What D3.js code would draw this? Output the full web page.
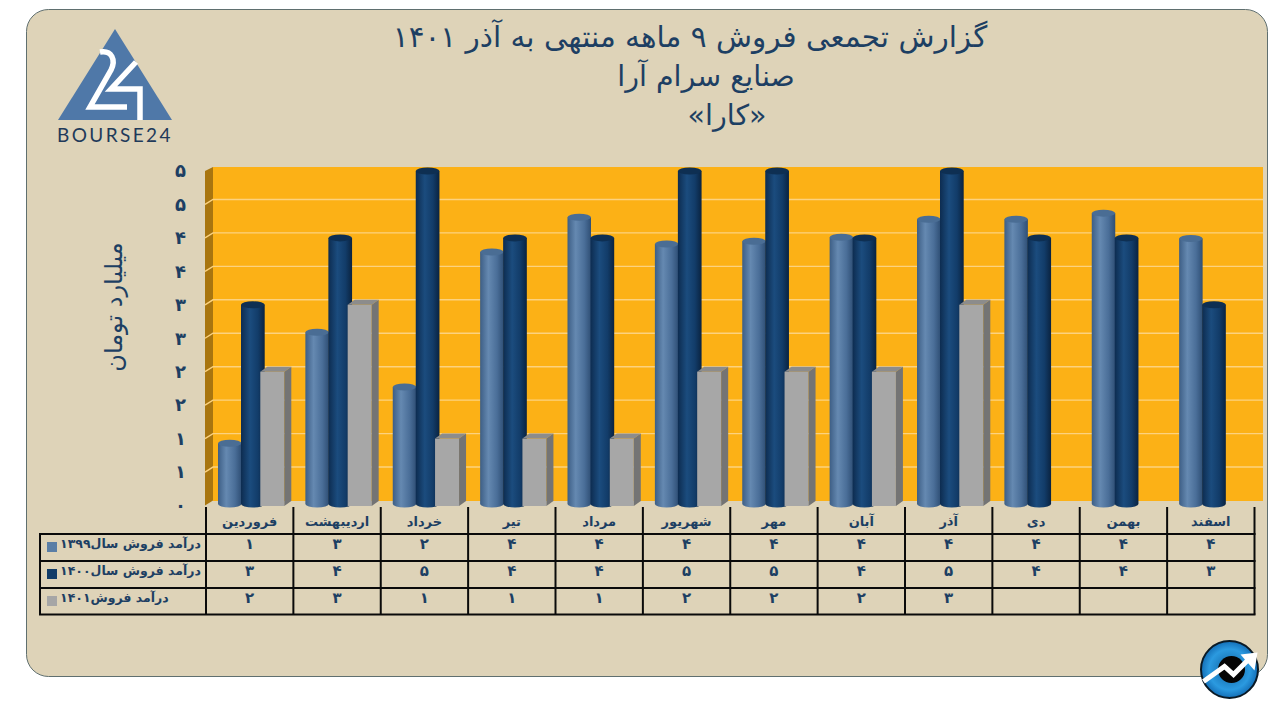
<!DOCTYPE html>
<html lang="fa"><head><meta charset="utf-8">
<script src="https://cdn.jsdelivr.net/npm/d3@7/dist/d3.min.js"></script>
<style>html,body{margin:0;padding:0;background:#fff}svg{display:block}text{font-family:"DejaVu Sans",sans-serif}</style>
</head><body><svg id="c" width="1280" height="720"></svg>
<script>
const titleLines = ["گزارش تجمعی فروش ۹ ماهه منتهی به آذر ۱۴۰۱","صنایع سرام آرا","«کارا»"];
const yAxisTitle = "میلیارد تومان";
const months = ["فروردین","اردیبهشت","خرداد","تیر","مرداد","شهریور","مهر","آبان","آذر","دی","بهمن","اسفند"];
const seriesNames = ["درآمد فروش سال۱۳۹۹","درآمد فروش سال۱۴۰۰","درآمد فروش۱۴۰۱"];
const sales1399 = [0.93,2.59,1.77,3.79,4.31,3.91,3.95,4.01,4.28,4.28,4.37,3.99];
const sales1400 = [3,4,5,4,4,5,5,4,5,4,4,3];
const sales1401 = [2,3,1,1,1,2,2,2,3,null,null,null];
const yTicks = [0,0.5,1,1.5,2,2.5,3,3.5,4,4.5,5];

const fa = n => String(n).replace(/\d/g,d=>"۰۱۲۳۴۵۶۷۸۹"[d]);
const ink = "#1d3f63";
const svg = d3.select("#c");
const defs = svg.append("defs");
function hGrad(id,stops){
  const g=defs.append("linearGradient").attr("id",id);
  stops.forEach(([o,c])=>g.append("stop").attr("offset",o).attr("stop-color",c));
}
hGrad("cylA",[[0,"#3d5e85"],[.35,"#6589b1"],[.72,"#4a6e98"],[1,"#2f4f75"]]);
hGrad("cylB",[[0,"#0d2c50"],[.38,"#1b4c7e"],[.72,"#123c69"],[1,"#0a2340"]]);
const rg=defs.append("radialGradient").attr("id","badge").attr("cx",.5).attr("cy",.5).attr("r",.55);
[[0,"#0d5f9e"],[.65,"#2b9ae0"],[1,"#0b5fa8"]].forEach(([o,c])=>rg.append("stop").attr("offset",o).attr("stop-color",c));

// panel
svg.append("rect").attr("x",26.5).attr("y",9.5).attr("width",1241).attr("height",667).attr("rx",22)
  .attr("fill","#ded3b8").attr("stroke","#5f6f6f").attr("stroke-width",1);

// title
const tY=[47,86,125], tX=[690,706,727], tS=[29.5,28.5,28.5];
svg.append("g").selectAll("text").data(titleLines).join("text")
  .attr("x",(d,i)=>tX[i]).attr("y",(d,i)=>tY[i]).attr("text-anchor","middle").attr("fill",ink)
  .attr("font-size",(d,i)=>tS[i]).text(d=>d);

// logo
const logo=svg.append("g");
logo.append("path").attr("d","M115,29L172,120H58Z").attr("fill","#4f78a8");
logo.append("path").attr("d","M100,52C112,50 116,60 111,70L90,107H127").attr("fill","none").attr("stroke","#fff").attr("stroke-width",5.5);
logo.append("path").attr("d","M136,62L111,89H140V120").attr("fill","none").attr("stroke","#fff").attr("stroke-width",5.5);
logo.append("text").attr("x",115).attr("y",142).attr("text-anchor","middle").attr("font-size",19).attr("letter-spacing",2.4)
  .attr("fill","#1f3a5a").style("font-family","Lato").text("BOURSE24");

// scales
const x0=206, x1=1254.5;
const x=d3.scaleBand().domain(d3.range(months.length)).range([x0,x1]);
const y=d3.scaleLinear().domain([0,5]).range([505.5,171]);
const dx=8, dy=5;

// walls
const plot=svg.append("g");
plot.append("rect").attr("x",x0+dx-1).attr("y",y(5)-dy+1).attr("width",1263-(x0+dx-1)).attr("height",y(0)-y(5)-0.5).attr("fill","#fcb116");
plot.append("path").attr("d",`M${x0-1},${y(5)}L${x0+dx-1},${y(5)-dy+1}V${y(0)-dy}L${x0-1},${y(0)}Z`).attr("fill","#a8750f");
plot.selectAll("path.g").data(yTicks.slice(1,-1)).join("path").attr("class","g")
  .attr("d",t=>`M${x0-1},${y(t)}L${x0+dx-1},${y(t)-dy}H1263`).attr("fill","none").attr("stroke","#fcd27f").attr("stroke-width",1.4);

// y axis
const ax=svg.append("g").attr("transform","translate(189,0)")
  .call(d3.axisLeft(y).tickValues(yTicks).tickSize(0).tickPadding(3).tickFormat(t=>fa(Math.round(t+1e-9))));
ax.select(".domain").remove();
ax.selectAll("text").attr("font-size",18).attr("font-weight","bold").attr("fill",ink).style("font-family","DejaVu Sans");
svg.append("text").attr("transform","translate(122,307) rotate(-90)").attr("text-anchor","middle")
  .attr("font-size",24).attr("fill",ink).text(yAxisTitle);

// bars
const ry=3.5, floor=y(0)-1.5;
function cylinders(vals,off,w,grad,top){
  const g=svg.append("g");
  vals.forEach((v,i)=>{
    const cx=x(i)+off+w/2, t=y(v);
    g.append("path").attr("d",`M${cx-w/2},${t}V${floor}A${w/2},${ry} 0 0 0 ${cx+w/2},${floor}V${t}Z`).attr("fill",`url(#${grad})`);
    g.append("ellipse").attr("cx",cx).attr("cy",t).attr("rx",w/2).attr("ry",ry).attr("fill",top);
  });
}
cylinders(sales1399,12,23.5,"cylA","#4a6d94");
cylinders(sales1400,35,23.7,"cylB","#0e2f52");
const gb=svg.append("g"), gw=24, gx=54.3, gs=7, gr=5;
sales1401.forEach((v,i)=>{
  if(v==null) return;
  const l=x(i)+gx, t=y(v), b=y(0)+0.5;
  gb.append("rect").attr("x",l).attr("y",t).attr("width",gw).attr("height",b-t).attr("fill","#a7a7a7");
  gb.append("path").attr("d",`M${l+gw},${t}L${l+gw+gs},${t-gr}V${b-gr}L${l+gw},${b}Z`).attr("fill","#747474");
  gb.append("path").attr("d",`M${l},${t}L${l+gs},${t-gr}H${l+gw+gs}L${l+gw},${t}Z`).attr("fill","#8c8c8c");
});

// data table
const rowY=[534,561,588,614.5], tblL=40;
const grid=svg.append("g").attr("stroke","#0a0a0a").attr("stroke-width",2);
rowY.forEach(r=>grid.append("line").attr("x1",tblL-1).attr("x2",x1+1).attr("y1",r).attr("y2",r));
grid.append("line").attr("x1",tblL).attr("x2",tblL).attr("y1",rowY[0]).attr("y2",rowY[3]);
[...months.keys(),months.length].forEach(i=>{
  const px=i<months.length?x(i):x1;
  grid.append("line").attr("x1",px).attr("x2",px).attr("y1",507).attr("y2",rowY[3]);
});
svg.append("g").selectAll("text").data(months).join("text")
  .attr("x",(d,i)=>x(i)+x.bandwidth()/2).attr("y",526).attr("text-anchor","middle")
  .attr("font-size",13).attr("font-weight","bold").attr("fill",ink).text(d=>d);
const rows=[sales1399,sales1400,sales1401], sw=["#5a7ea6","#123c68","#a6a6a6"];
rows.forEach((vals,r)=>{
  const base=rowY[r]+14;
  svg.append("rect").attr("x",47).attr("y",rowY[r]+8).attr("width",10).attr("height",10).attr("fill",sw[r]);
  svg.append("text").attr("x",60).attr("y",base).attr("font-size",12.5).attr("font-weight","bold").attr("fill",ink)
    .attr("direction","rtl").attr("text-anchor","end").text(seriesNames[r]);
  vals.forEach((v,i)=>{
    if(v==null) return;
    svg.append("text").attr("x",x(i)+x.bandwidth()/2).attr("y",base+1).attr("text-anchor","middle")
      .attr("font-size",15).attr("font-weight","bold").attr("fill",ink).text(fa(Math.round(v)));
  });
});

// badge
const bd=svg.append("g").attr("transform","translate(1229.5,669.5)");
bd.append("circle").attr("r",28.5).attr("fill","url(#badge)").attr("stroke","#0a1a26").attr("stroke-width",2);
bd.append("circle").attr("cx",2).attr("r",13.5).attr("fill","#050505");
bd.append("path").attr("d","M-26,12L-5,-3L4,5L18,-9").attr("fill","none").attr("stroke","#fff").attr("stroke-width",5);
bd.append("path").attr("d","M11,-15L28,-17L25,1Z").attr("fill","#fff");
</script></body></html>
